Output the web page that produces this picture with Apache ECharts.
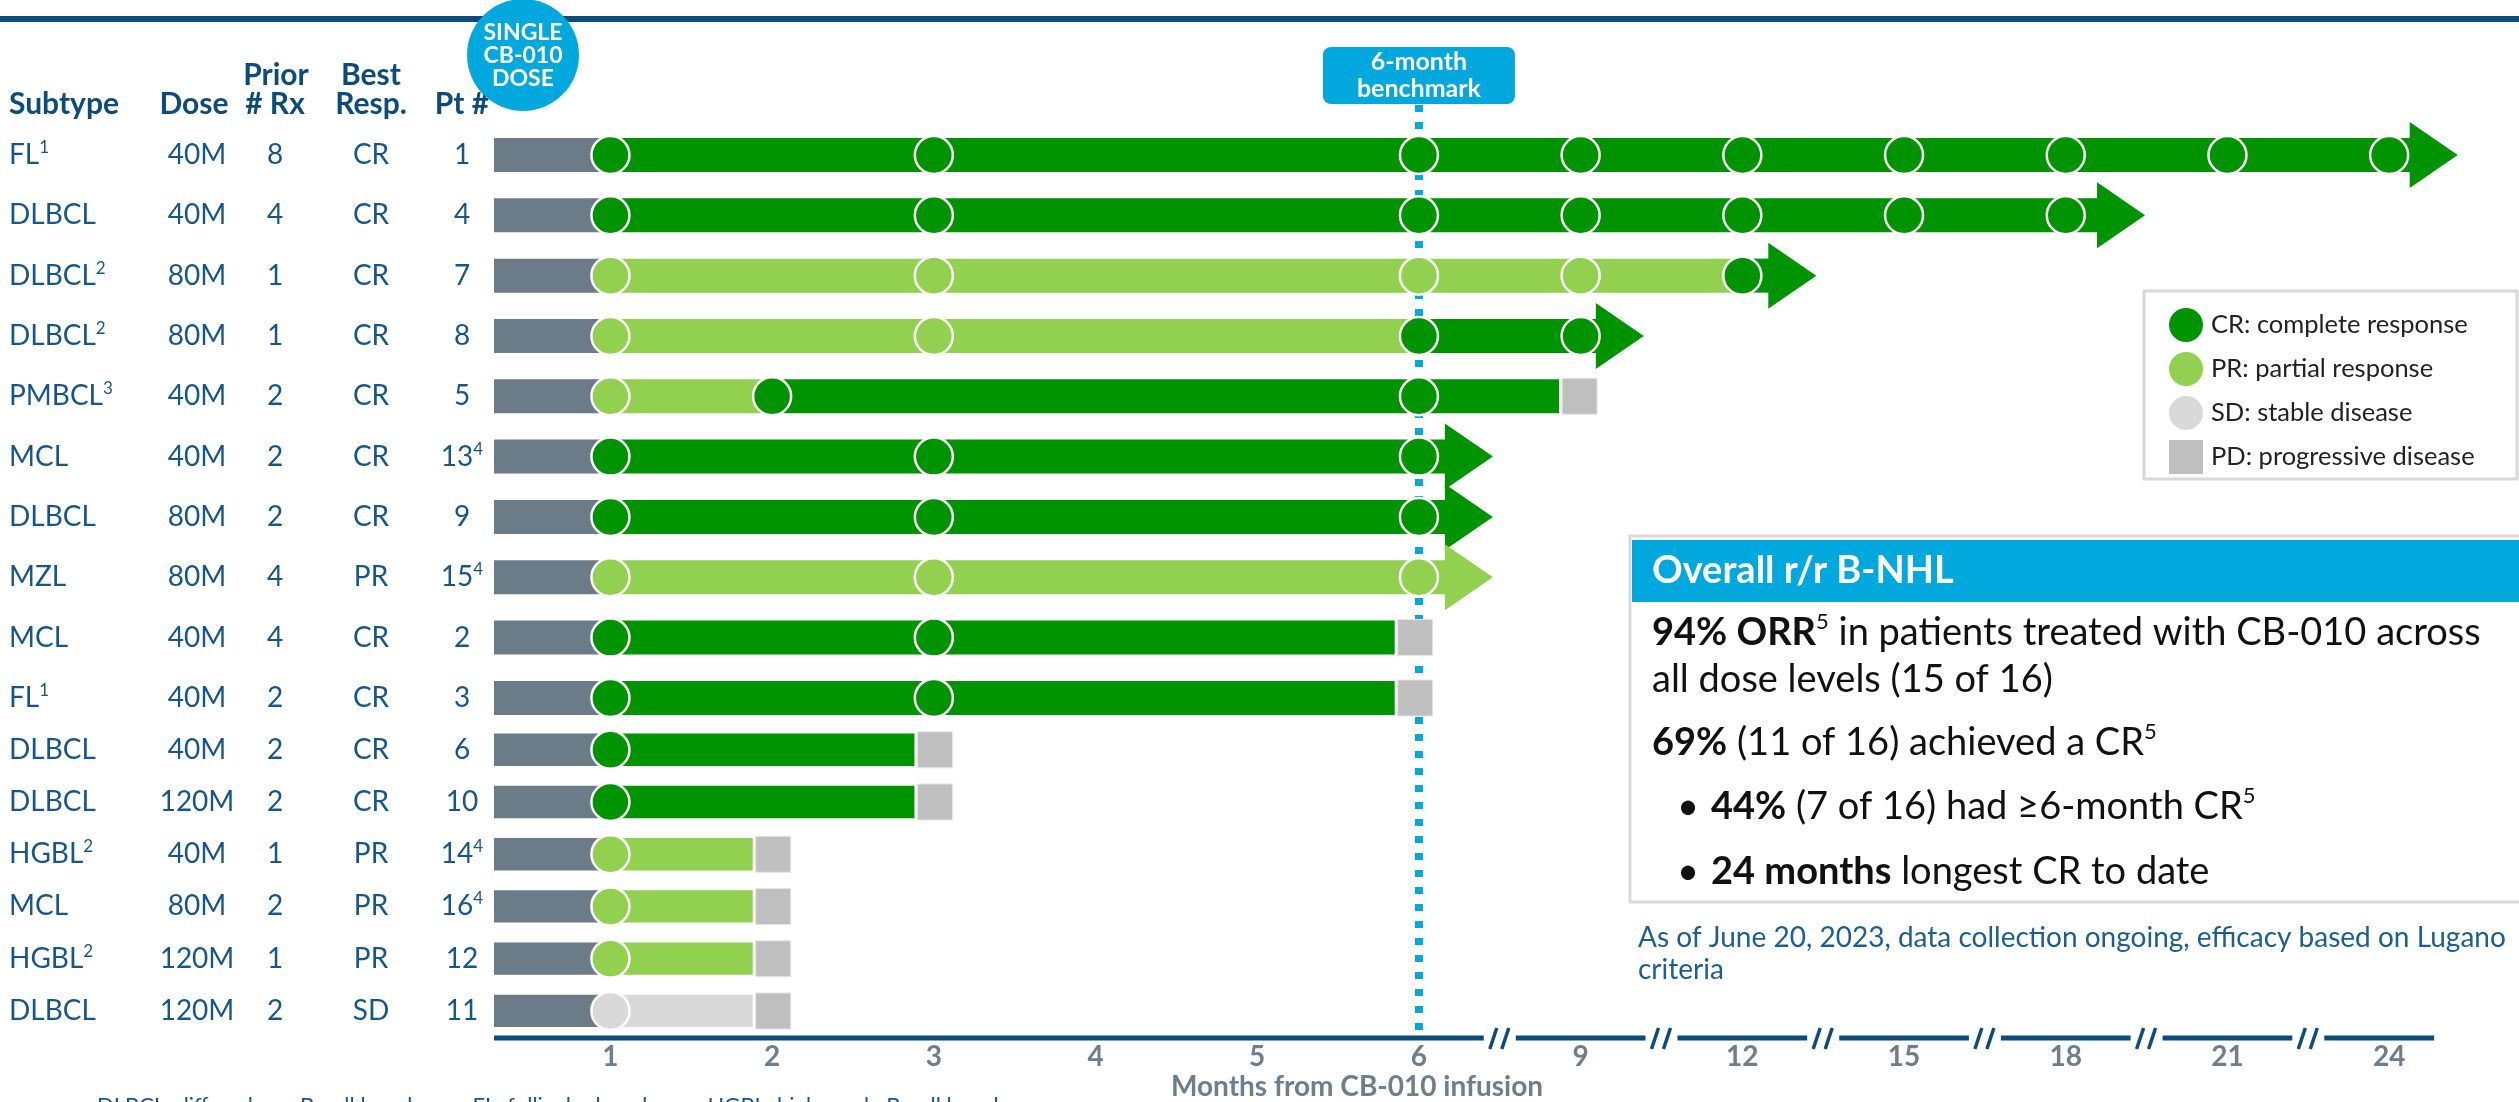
<!DOCTYPE html>
<html><head><meta charset="utf-8">
<script src="https://cdn.jsdelivr.net/npm/echarts@6/dist/echarts.min.js"></script>
<style>html,body{margin:0;padding:0;background:#fff}#c{width:2519px;height:1102px}</style>
</head><body><div id="c"></div>
<script>
// ================= DATA =================
const subtypes      = ['FL','DLBCL','DLBCL','DLBCL','PMBCL','MCL','DLBCL','MZL','MCL','FL','DLBCL','DLBCL','HGBL','MCL','HGBL','DLBCL'];
const subtypeNotes  = ['1','','2','2','3','','','','','1','','','2','','2',''];
const doses         = ['40M','40M','80M','80M','40M','40M','80M','80M','40M','40M','40M','120M','40M','80M','120M','120M'];
const priorRx       = ['8','4','1','1','2','2','2','4','4','2','2','2','1','2','1','2'];
const bestResponse  = ['CR','CR','CR','CR','CR','CR','CR','PR','CR','CR','CR','CR','PR','PR','PR','SD'];
const patientIds    = ['1','4','7','8','5','13','9','15','2','3','6','10','14','16','12','11'];
const patientNotes  = ['','','','','','4','','4','','','','','4','4','',''];
// response periods: [status, fromMonth, toMonth]
const responseSegments = [
  [['CR',1,24.4]],
  [['CR',1,18.6]],
  [['PR',1,12],['CR',12,12.5]],
  [['PR',1,6],['CR',6,9.3]],
  [['PR',1,2],['CR',2,8.6]],
  [['CR',1,6.5]],
  [['CR',1,6.5]],
  [['PR',1,6.5]],
  [['CR',1,5.85]],
  [['CR',1,5.85]],
  [['CR',1,2.88]],
  [['CR',1,2.88]],
  [['PR',1,1.88]],
  [['PR',1,1.88]],
  [['PR',1,1.88]],
  [['SD',1,1.88]]
];
const outcomes = ['ongoing','ongoing','ongoing','ongoing','PD','ongoing','ongoing','ongoing','PD','PD','PD','PD','PD','PD','PD','PD'];
const assessmentMonths = [
  [1,3,6,9,12,15,18,21,24],
  [1,3,6,9,12,15,18],
  [1,3,6,9,12],
  [1,3,6,9],
  [1,2,6],
  [1,3,6],
  [1,3,6],
  [1,3,6],
  [1,3],[1,3],[1],[1],[1],[1],[1],[1]
];
const assessmentStatus = [
  ['CR','CR','CR','CR','CR','CR','CR','CR','CR'],
  ['CR','CR','CR','CR','CR','CR','CR'],
  ['PR','PR','PR','PR','CR'],
  ['PR','PR','CR','CR'],
  ['PR','CR','CR'],
  ['CR','CR','CR'],
  ['CR','CR','CR'],
  ['PR','PR','PR'],
  ['CR','CR'],['CR','CR'],['CR'],['CR'],['PR'],['PR'],['PR'],['SD']
];
const tickMonths = [1,2,3,4,5,6,9,12,15,18,21,24];
const benchmarkMonth = 6;
const legendNames = {CR:'CR: complete response', PR:'PR: partial response', SD:'SD: stable disease', PD:'PD: progressive disease'};

// ================= STYLE =================
const COLORS = {PRE:'#6b7c88', CR:'#009300', PR:'#92d050', SD:'#d9d9d9', PD:'#bfbfbf'};
const NAVY = '#0c4c7d', ROWTXT = '#17568a', BLUE = '#00a8de', AXISGRAY = '#6e7e8a';
const FONT = 'Lato';

// broken time scale: month -> axis position
function pos(m){
  if (m <= 1) return -0.72 + 0.72*m;
  if (m <= 6) return m - 1;
  return 5 + (m - 6)/3;
}

const groups = [{start:0,end:10},{start:10,end:16}];
const grids = [
  {left:494, right:49, top:124.8, height:603.3},
  {left:494, right:49, top:723.6, height:316.8}
];

const rich = {
  n:{fontSize:28, color:ROWTXT, fontFamily:FONT, lineHeight:32},
  s:{fontSize:17, color:ROWTXT, fontFamily:FONT, verticalAlign:'top', lineHeight:18}
};
function withNote(t, note){ return note ? '{n|'+t+'}{s|'+note+'}' : '{n|'+t+'}'; }
const columns = [
  {offset:485, align:'left',   fmt:r=>withNote(subtypes[r], subtypeNotes[r])},
  {offset:297, align:'center', fmt:r=>withNote(doses[r])},
  {offset:219, align:'center', fmt:r=>withNote(priorRx[r])},
  {offset:123, align:'center', fmt:r=>withNote(bestResponse[r])},
  {offset:32,  align:'center', fmt:r=>withNote(patientIds[r], patientNotes[r])}
];

const xAxis = [], yAxis = [], series = [];
groups.forEach((g, gi) => {
  const rows = []; for (let r=g.start; r<g.end; r++) rows.push(r);
  xAxis.push(gi === 0 ? {gridIndex:0, type:'value', min:pos(0), max:11.5, show:false} : {
    gridIndex:1, type:'value', min:pos(0), max:11.5,
    axisLine:{show:false}, axisTick:{show:false}, splitLine:{show:false},
    axisLabel:{customValues: tickMonths.map(pos), margin:6, fontSize:28, fontWeight:'bold', color:AXISGRAY, fontFamily:FONT,
      formatter: v => { const m = tickMonths.find(t => Math.abs(pos(t)-v) < 1e-6); return m === undefined ? '' : String(m); }},
    name:'Months from CB-010 infusion', nameLocation:'middle', nameGap:36,
    nameTextStyle:{fontSize:28, fontWeight:'bold', color:AXISGRAY, fontFamily:FONT, padding:[0,250,0,0]}
  });
  const yBase = yAxis.length;
  columns.forEach(c => yAxis.push({
    type:'category', gridIndex:gi, inverse:true, position:'left', offset:c.offset,
    data: rows.map(r => String(r)),
    axisLine:{show:false}, axisTick:{show:false}, splitLine:{show:false},
    axisLabel:{interval:0, margin:0, align:c.align, formatter: v => c.fmt(+v), rich}
  }));

  // bars, arrows
  series.push({
    type:'custom', name:'bars'+gi, xAxisIndex:gi, yAxisIndex:yBase, zlevel:1, z:2, silent:true, clip:false,
    encode:{x:0, y:1},
    data: rows.map(r => [pos(0), r - g.start, r]),
    renderItem: (params, api) => {
      const local = api.value(1), r = api.value(2);
      const bh = Math.min(34, api.size([0,1])[1]*0.62);
      const yc = api.coord([0, local])[1];
      const kids = [];
      const seg = (a, b, color) => {
        const x0 = api.coord([pos(a), local])[0], x1 = api.coord([pos(b), local])[0];
        kids.push({type:'rect', shape:{x:x0, y:yc-bh/2, width:x1-x0, height:bh}, style:{fill:color}});
      };
      seg(0, 1, COLORS.PRE);
      const segs = responseSegments[r];
      segs.forEach(s => seg(s[1], s[2], COLORS[s[0]]));
      if (outcomes[r] === 'ongoing') {
        const last = segs[segs.length-1];
        const xe = api.coord([pos(last[2]), local])[0] - 1;
        kids.push({type:'polygon', shape:{points:[[xe, yc-33],[xe+48, yc],[xe, yc+33]]}, style:{fill:COLORS[last[0]]}});
      }
      return {type:'group', children:kids};
    }
  });

  // assessment circles
  ['CR','PR','SD'].forEach(st => {
    const data = [];
    rows.forEach(r => assessmentMonths[r].forEach((m,k) => {
      if (assessmentStatus[r][k] === st) data.push([pos(m), r - g.start]);
    }));
    series.push({type:'scatter', name:legendNames[st], xAxisIndex:gi, yAxisIndex:yBase, zlevel:1, z:3, silent:true,
      symbol:'circle', symbolSize:38, data,
      itemStyle:{color:COLORS[st], borderColor:'#fff', borderWidth:2.5, opacity:1}});
  });
  // progressive disease squares
  const pd = [];
  rows.forEach(r => { if (outcomes[r] === 'PD') { const s = responseSegments[r]; pd.push([pos(s[s.length-1][2]), r - g.start]); } });
  series.push({type:'scatter', name:legendNames.PD, xAxisIndex:gi, yAxisIndex:yBase, zlevel:1, z:3, silent:true,
    symbol:'rect', symbolSize:[35,36], symbolOffset:[20.5,0], data:pd,
    itemStyle:{color:COLORS.PD, borderColor:'#e6e6e6', borderWidth:1, opacity:1}});
});

// 6-month benchmark line + tag (anchored on the time axis), drawn under the bars
series.push({
  type:'custom', name:'benchmark', xAxisIndex:0, yAxisIndex:0, zlevel:0, z:1, silent:true, clip:false,
  encode:{x:0, y:1}, data:[[pos(benchmarkMonth), 0]],
  renderItem: (params, api) => {
    const x = api.coord([api.value(0), 0])[0];
    return {type:'group', children:[
      {type:'line', shape:{x1:x, y1:105, x2:x, y2:1030}, style:{stroke:BLUE, lineWidth:8, lineDash:[7,10]}},
      {type:'rect', shape:{x:x-96, y:47, width:192, height:57, r:8}, style:{fill:BLUE}, z2:10},
      {type:'text', x:x, y:62, style:{text:'6-month', fill:'#fff', fontSize:25, fontWeight:'bold', fontFamily:FONT, align:'center', verticalAlign:'middle'}, z2:11},
      {type:'text', x:x, y:89, style:{text:'benchmark', fill:'#fff', fontSize:25, fontWeight:'bold', fontFamily:FONT, align:'center', verticalAlign:'middle'}, z2:11}
    ]};
  }
});

// broken time axis line with // marks
series.push({
  type:'custom', name:'timeAxis', xAxisIndex:1, yAxisIndex:5, zlevel:1, z:4, silent:true, clip:false,
  encode:{x:0, y:1}, data:[[pos(0), 0]],
  renderItem: (params, api) => {
    const cs = params.coordSys;
    const y = cs.y + cs.height + 1;
    const X = p => api.coord([p, 0])[0];
    const breaks = [];
    for (let i=1; i<tickMonths.length; i++)
      if (tickMonths[i] - tickMonths[i-1] > 1) breaks.push((pos(tickMonths[i]) + pos(tickMonths[i-1]))/2);
    const bounds = [X(pos(0))];
    breaks.forEach(b => { bounds.push(X(b)-16); bounds.push(X(b)+16); });
    bounds.push(X(pos(tickMonths[tickMonths.length-1])) + 45);
    const kids = [];
    for (let i=0; i<bounds.length; i+=2)
      kids.push({type:'line', shape:{x1:bounds[i], y1:y, x2:bounds[i+1], y2:y}, style:{stroke:NAVY, lineWidth:5}});
    breaks.forEach(b => {
      const cx = X(b);
      kids.push({type:'line', shape:{x1:cx-10, y1:y+11, x2:cx-3, y2:y-10}, style:{stroke:NAVY, lineWidth:3.5}});
      kids.push({type:'line', shape:{x1:cx+2, y1:y+11, x2:cx+9, y2:y-10}, style:{stroke:NAVY, lineWidth:3.5}});
    });
    return {type:'group', children:kids};
  }
});

// ================= DECORATION / TEXT =================
const hdr = (text, x, y, align) => ({type:'text', x, y, style:{text, fill:NAVY, fontSize:30, fontWeight:'bold', fontFamily:FONT, align, verticalAlign:'middle'}});
const bodyRich = {
  b:{fontSize:38, fontWeight:'bold', fontFamily:FONT, fill:'#111', lineHeight:44},
  n:{fontSize:38, fontFamily:FONT, fill:'#111', lineHeight:44},
  s:{fontSize:22, fontFamily:FONT, fill:'#111', verticalAlign:'top', lineHeight:24}
};
const body = (text, x, y) => ({type:'text', x, y, z:20, style:{text, rich:bodyRich, align:'left', verticalAlign:'middle'}});

const graphic = [
  {type:'rect', shape:{x:0, y:16, width:2519, height:6}, style:{fill:NAVY}},
  hdr('Subtype', 9, 104, 'left'),
  hdr('Dose', 194, 104, 'center'),
  hdr('Prior', 276, 75, 'center'),
  hdr('# Rx', 275, 104, 'center'),
  hdr('Best', 371, 75, 'center'),
  hdr('Resp.', 371, 104, 'center'),
  hdr('Pt #', 462, 104, 'center'),
  {type:'circle', shape:{cx:523, cy:55, r:56}, style:{fill:BLUE}, z:5},
  {type:'text', x:523, y:33, z:6, style:{text:'SINGLE', fill:'#fff', fontSize:23, fontWeight:'bold', fontFamily:FONT, align:'center', verticalAlign:'middle'}},
  {type:'text', x:523, y:56, z:6, style:{text:'CB-010', fill:'#fff', fontSize:23, fontWeight:'bold', fontFamily:FONT, align:'center', verticalAlign:'middle'}},
  {type:'text', x:523, y:79, z:6, style:{text:'DOSE', fill:'#fff', fontSize:23, fontWeight:'bold', fontFamily:FONT, align:'center', verticalAlign:'middle'}},
  // legend frame
  {type:'rect', shape:{x:2144, y:291, width:373, height:188}, style:{fill:'#fff', stroke:'#d9d9d9', lineWidth:3}, z:0},
  // summary box
  {type:'rect', shape:{x:1630, y:536, width:900, height:366}, style:{fill:'#fff', stroke:'#d9d9d9', lineWidth:3}, z:10},
  {type:'rect', shape:{x:1632, y:540, width:890, height:62}, style:{fill:BLUE}, z:11},
  {type:'text', x:1652, y:571, z:12, style:{text:'Overall r/r B-NHL', fill:'#fff', fontSize:38, fontWeight:'bold', fontFamily:FONT, align:'left', verticalAlign:'middle'}},
  body('{b|94% ORR}{s|5}{n| in patients treated with CB-010 across}', 1652, 633),
  body('{n|all dose levels (15 of 16)}', 1652, 680),
  body('{b|69%}{n| (11 of 16) achieved a CR}{s|5}', 1652, 743),
  body('{n|•}', 1677, 807),
  body('{b|44%}{n| (7 of 16) had ≥6-month CR}{s|5}', 1711, 807),
  body('{n|•}', 1677, 872),
  body('{b|24 months}{n| longest CR to date}', 1711, 872),
  {type:'text', x:1638, y:938, style:{text:'As of June 20, 2023, data collection ongoing, efficacy based on Lugano', fill:'#1b5e92', fontSize:28, fontFamily:FONT, align:'left', verticalAlign:'middle'}},
  {type:'text', x:1638, y:970, style:{text:'criteria', fill:'#1b5e92', fontSize:28, fontFamily:FONT, align:'left', verticalAlign:'middle'}},
  {type:'text', x:97, y:1095, style:{text:'DLBCL: diffuse large B-cell lymphoma; FL: follicular lymphoma; HGBL: high-grade B-cell lymphoma', fill:ROWTXT, fontSize:22, fontFamily:FONT, align:'left', verticalAlign:'top'}}
];

const chart = echarts.init(document.getElementById('c'), null, {renderer:'canvas'});
chart.setOption({
  animation:false,
  backgroundColor:'#fff',
  textStyle:{fontFamily:FONT},
  grid:grids,
  xAxis, yAxis,
  legend:{
    orient:'vertical', left:2169, top:308, padding:0, itemWidth:34, itemHeight:34, itemGap:10,
    selectedMode:false, itemStyle:{borderWidth:0},
    textStyle:{fontSize:25.5, color:'#222', fontFamily:FONT, padding:[0,0,0,3]},
    data:[{name:legendNames.CR, icon:'circle'},{name:legendNames.PR, icon:'circle'},{name:legendNames.SD, icon:'circle'},{name:legendNames.PD, icon:'rect'}]
  },
  graphic,
  series
});
</script>
</body></html>
